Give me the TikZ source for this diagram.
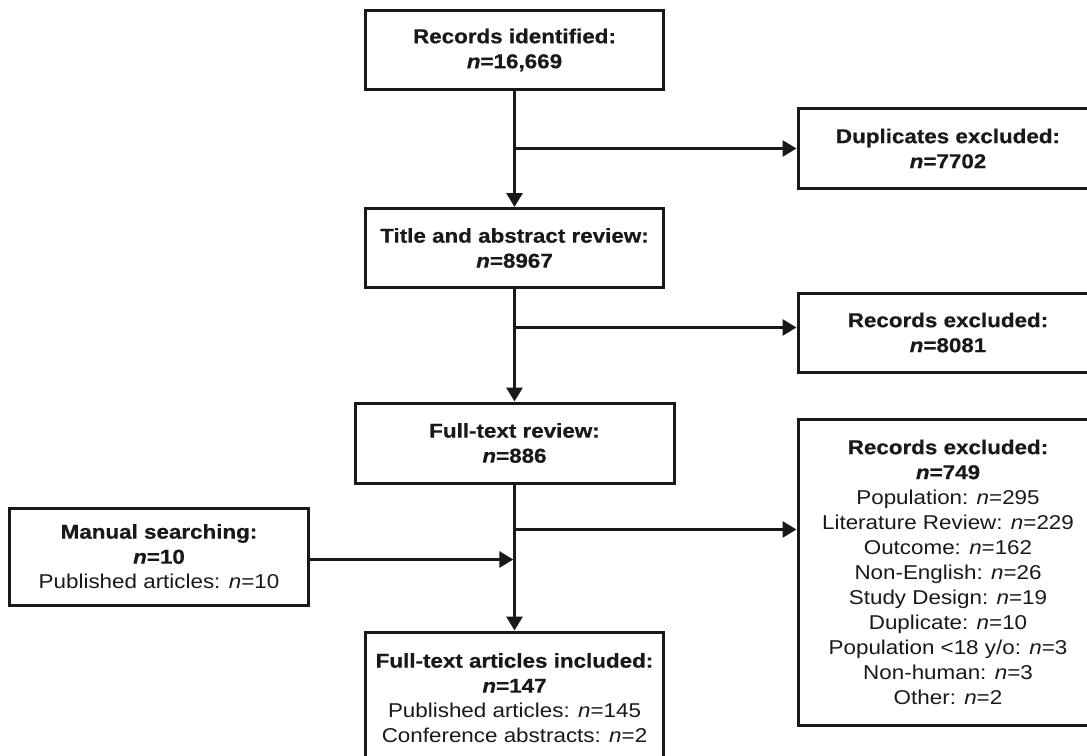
\documentclass[tikz,border=0pt]{standalone}
\usepackage{fontspec}
\setmainfont{Liberation Sans}[
  BoldFeatures={FakeStretch=1.12,FakeBold=0.6},
  ItalicFeatures={FakeStretch=1.12},
  BoldItalicFeatures={FakeStretch=1.12,FakeBold=0.6},
  UprightFeatures={FakeStretch=1.12}]
\usetikzlibrary{arrows.meta}
\tikzset{
  box/.style={draw=black!90, line width=3bp, align=center, inner sep=0pt,
    font=\fontsize{20bp}{25bp}\selectfont, text=black!90},
  conn/.style={draw=black!90, line width=3bp},
  arr/.style={conn, -{Triangle[length=14bp,width=16bp]}}
}
\begin{document}
\begin{tikzpicture}[x=1bp,y=-1bp]
\clip (0,0) rectangle (1087,756);
\fill[white] (0,0) rectangle (1087,756);
\node[box, minimum width=298bp, minimum height=78bp] (rid) at (514.5,50)
  {\textbf{Records identified:}\\\textbf{\textit{n}=16,669}};
\node[box, minimum width=300bp, minimum height=79bp] (dup) at (948,148.5)
  {\textbf{Duplicates excluded:}\\\textbf{\textit{n}=7702}};
\node[box, minimum width=298bp, minimum height=79bp] (tar) at (514.5,248)
  {\textbf{Title and abstract review:}\\\textbf{\textit{n}=8967}};
\node[box, minimum width=300bp, minimum height=79bp] (rex1) at (948,332.5)
  {\textbf{Records excluded:}\\\textbf{\textit{n}=8081}};
\node[box, minimum width=319bp, minimum height=80bp] (ftr) at (514.5,443)
  {\textbf{Full-text review:}\\\textbf{\textit{n}=886}};
\node[box, minimum width=298bp, minimum height=97bp] (man) at (159,556.5)
  {\textbf{Manual searching:}\\\textbf{\textit{n}=10}\\Published articles: \textit{n}=10};
\node[box, minimum width=300bp, minimum height=306bp] (rex2) at (948,572)
  {\textbf{Records excluded:}\\\textbf{\textit{n}=749}\\
   Population: \textit{n}=295\\
   Literature Review: \textit{n}=229\\
   Outcome: \textit{n}=162\\
   Non-English: \textit{n}=26\\
   Study Design: \textit{n}=19\\
   Duplicate: \textit{n}=10\\
   Population <18 y/o: \textit{n}=3\\
   Non-human: \textit{n}=3\\
   Other: \textit{n}=2};
\node[box, minimum width=298bp, minimum height=132bp] (inc) at (514.5,698)
  {\textbf{Full-text articles included:}\\\textbf{\textit{n}=147}\\
   Published articles: \textit{n}=145\\Conference abstracts: \textit{n}=2};
% connectors
\draw[arr] (rid.south) -- (tar.north);
\coordinate (j1) at (rid.south |- dup.west);
\draw[arr] (j1) -- (dup.west);
\draw[arr] (tar.south) -- (ftr.north);
\coordinate (j2) at (514.5,327.5);
\draw[arr] (j2) -- (j2 -| rex1.west);
\draw[arr] (ftr.south) -- (inc.north);
\coordinate (j3) at (514.5,529.5);
\draw[arr] (j3) -- (j3 -| rex2.west);
\coordinate (j4) at (513.3,559.5);
\draw[arr] (man.east |- j4) -- (j4);
\end{tikzpicture}
\end{document}
